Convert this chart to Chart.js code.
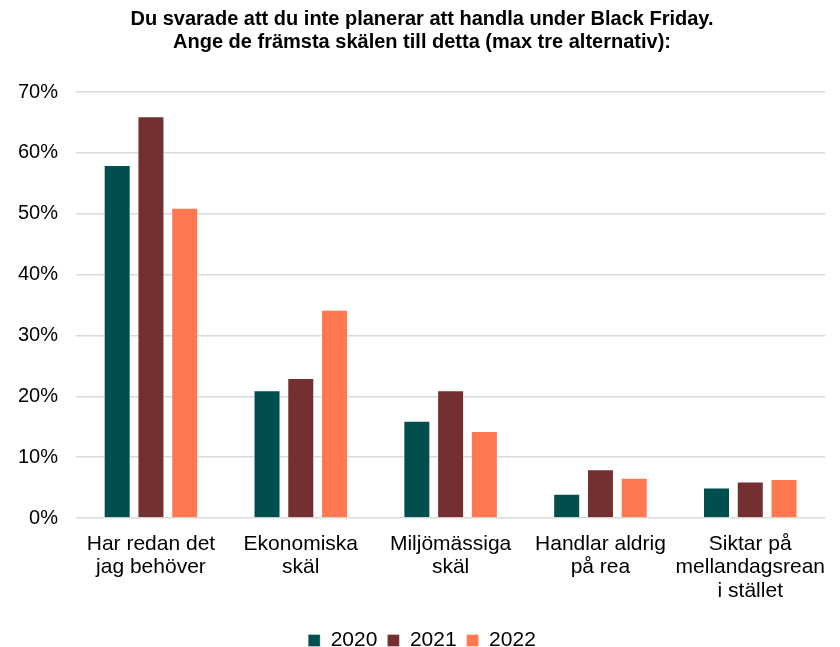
<!DOCTYPE html>
<html>
<head>
<meta charset="utf-8">
<script src="https://cdn.jsdelivr.net/npm/chart.js@4"></script>
<style>
  html, body { margin: 0; padding: 0; background: #fff; }
  #wrap { width: 840px; height: 647px; }
</style>
</head>
<body>
<div id="wrap"><canvas id="myChart" width="840" height="647"></canvas></div>
<script>
// categories and series, values in percent
var categories = [
	['Har redan det', 'jag behöver'],
	['Ekonomiska', 'skäl'],
	['Miljömässiga', 'skäl'],
	['Handlar aldrig', 'på rea'],
	['Siktar på', 'mellandagsrean', 'i stället']
];
var years = ['2020', '2021', '2022'];
var values2020 = [58, 21, 16, 4, 5];
var values2021 = [66, 23, 21, 8, 6];
var values2022 = [51, 34.2, 14.3, 6.6, 6.4];
var yTicks = [0, 10, 20, 30, 40, 50, 60, 70];

var colors = ['#004E4E', '#743030', '#FF7850'];
var seriesData = [values2020, values2021, values2022];

var ctx = document.getElementById('myChart');
new Chart(ctx, {
	type: 'bar',
	data: {
		labels: categories,
		datasets: years.map(function (y, i) {
			return {
				label: y,
				data: seriesData[i],
				backgroundColor: colors[i],
				borderColor: 'rgba(255,255,255,0.35)',
				borderWidth: 1,
				categoryPercentage: 0.676,
				barPercentage: 0.8
			};
		})
	},
	options: {
		responsive: false,
		animation: false,
		layout: { padding: { left: 0, right: -4, top: 2, bottom: -14 } },
		plugins: {
			title: {
				display: true,
				text: ['Du svarade att du inte planerar att handla under Black Friday.',
					'Ange de främsta skälen till detta (max tre alternativ):'],
				color: '#000',
				font: { family: 'Liberation Sans', size: 20, weight: 'bold', lineHeight: 1.15 },
				padding: { top: 6, bottom: 38 }
			},
			legend: {
				position: 'bottom',
				labels: {
					color: '#000',
					font: { family: 'Liberation Sans', size: 21 },
					boxWidth: 12,
					boxHeight: 12,
					padding: 10
				}
			},
			tooltip: { enabled: false }
		},
		scales: {
			x: {
				grid: { display: false, drawTicks: false },
				border: { display: false },
				afterFit: function (axis) { axis.height = 102; },
				ticks: {
					color: '#000',
					font: { family: 'Liberation Sans', size: 21, lineHeight: 1.1 },
					padding: 15,
					maxRotation: 0,
					autoSkip: false
				}
			},
			y: {
				min: 0,
				max: 70,
				afterBuildTicks: function (axis) {
					axis.ticks = yTicks.map(function (v) { return { value: v }; });
				},
				grid: { color: '#d9d9d9', lineWidth: 1.5, drawTicks: false },
				border: { display: false },
				ticks: {
					color: '#000',
					font: { family: 'Liberation Sans', size: 20 },
					padding: 18,
					callback: function (v) { return v + '%'; }
				}
			}
		}
	}
});
</script>
</body>
</html>
